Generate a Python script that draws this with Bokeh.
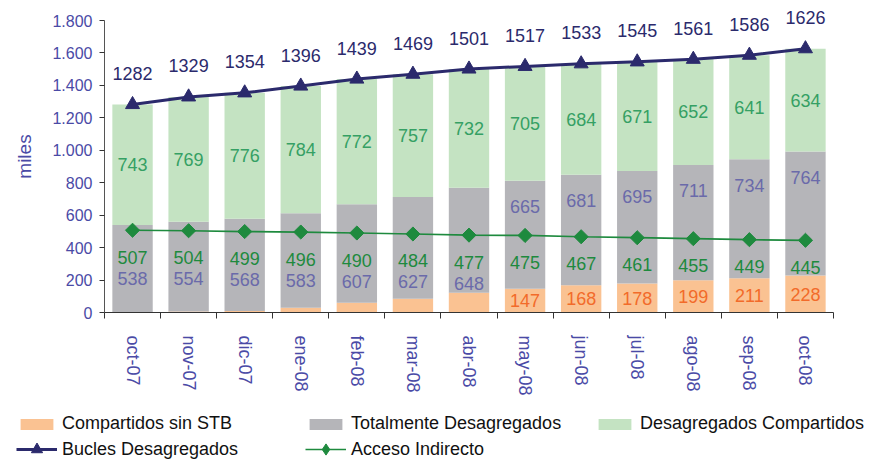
import math
from bokeh.plotting import figure
from bokeh.models import ColumnDataSource, Range1d, FixedTicker, Legend, LegendItem
from bokeh.core.properties import value
from bokeh.embed import file_html
from bokeh.resources import INLINE

# ---- data ----
months = ["oct-07", "nov-07", "dic-07", "ene-08", "feb-08", "mar-08", "abr-08",
          "may-08", "jun-08", "jul-08", "ago-08", "sep-08", "oct-08"]
compartidos_sin_stb = [1, 6, 10, 29, 60, 85, 121, 147, 168, 178, 199, 211, 228]
totalmente_desagregados = [538, 554, 568, 583, 607, 627, 648, 665, 681, 695, 711, 734, 764]
desagregados_compartidos = [743, 769, 776, 784, 772, 757, 732, 705, 684, 671, 652, 641, 634]
bucles_desagregados = [1282, 1329, 1354, 1396, 1439, 1469, 1501, 1517, 1533, 1545, 1561, 1586, 1626]
acceso_indirecto = [507, 504, 499, 496, 490, 484, 477, 475, 467, 461, 455, 449, 445]
y_ticks = [0, 200, 400, 600, 800, 1000, 1200, 1400, 1600, 1800]
series_names = ["Compartidos sin STB", "Totalmente Desagregados", "Desagregados Compartidos",
                "Bucles Desagregados", "Acceso Indirecto"]

FONT = "Liberation Sans"
C_ORANGE = "#FAC292"
C_GRAY = "#B5B5B9"
C_LGREEN = "#C4E3C2"
C_NAVY = "#2B2A6C"
C_GREEN = "#1E8A3E"
C_AXIS_TXT = "#4A4AA6"

n = len(months)
xs = list(range(n))
src = ColumnDataSource(dict(x=xs, orange=compartidos_sin_stb, gray=totalmente_desagregados,
                            lgreen=desagregados_compartidos, bucles=bucles_desagregados,
                            acceso=acceso_indirecto))

y_top = y_ticks[-1] * (1 + 20 / 292)
p = figure(width=872, height=400, output_backend="svg", toolbar_location=None,
           x_range=Range1d(-0.5, n - 0.5), y_range=Range1d(0, y_top),
           min_border=0, min_border_left=104, min_border_right=39,
           min_border_top=0, min_border_bottom=88)
p.outline_line_color = None
p.xgrid.visible = False
p.ygrid.visible = False

def draw_marks(fig, source, visible=True, diamond_marker="square", diamond_size=10,
               diamond_angle=math.pi / 4):
    bars = fig.vbar_stack(["orange", "gray", "lgreen"], x="x", width=0.72,
                          color=[C_ORANGE, C_GRAY, C_LGREEN], line_color=None, source=source)
    lb = fig.line("x", "bucles", source=source, line_color=C_NAVY, line_width=3)
    sb = fig.scatter("x", "bucles", source=source, marker="triangle", size=14,
                     fill_color=C_NAVY, line_color=C_NAVY)
    la = fig.line("x", "acceso", source=source, line_color=C_GREEN, line_width=1.7)
    sa = fig.scatter("x", "acceso", source=source, marker=diamond_marker, size=diamond_size,
                     angle=diamond_angle, fill_color=C_GREEN, line_color=C_GREEN)
    for r in list(bars) + [lb, sb, la, sa]:
        r.visible = visible
    return bars, lb, sb, la, sa

draw_marks(p, src)

def labels(xv, yv, txt, color, yoff, size="18px"):
    s = ColumnDataSource(dict(x=xv, y=yv, t=txt))
    p.text("x", "y", text="t", source=s, text_color=color, text_font=value(FONT),
           text_font_size=size, text_align="center", text_baseline="middle",
           y_offset=yoff)

# totals
labels(xs, bucles_desagregados, [str(v) for v in bucles_desagregados], C_NAVY, -31)
# desagregados compartidos (middle of segment)
labels(xs, [o + g + c / 2 for o, g, c in zip(compartidos_sin_stb, totalmente_desagregados, desagregados_compartidos)],
       [str(v) for v in desagregados_compartidos], "#35A064", 0)
# acceso indirecto labels
labels(xs, acceso_indirecto, [str(v) for v in acceso_indirecto], C_GREEN, 27)
# totalmente desagregados labels: above the line where room, else below
gx_hi, gy_hi, gt_hi, gx_lo, gy_lo, gt_lo = [], [], [], [], [], []
for i, (o, g, a) in enumerate(zip(compartidos_sin_stb, totalmente_desagregados, acceso_indirecto)):
    if o + g - a >= 300:
        gx_hi.append(i); gy_hi.append(o + g); gt_hi.append(str(g))
    else:
        gx_lo.append(i); gy_lo.append(a); gt_lo.append(str(g))
labels(gx_hi, gy_hi, gt_hi, "#6A6AAA", 26)
labels(gx_lo, gy_lo, gt_lo, "#6A6AAA", 48)
# compartidos sin STB labels where the segment is tall enough
ox = [i for i, o in enumerate(compartidos_sin_stb) if o >= 140]
labels(ox, [compartidos_sin_stb[i] / 2 for i in ox], [str(compartidos_sin_stb[i]) for i in ox], "#F26B2A", 0)

# axes
xa = p.xaxis[0]
xa.ticker = FixedTicker(ticks=xs, minor_ticks=[i - 0.5 for i in range(n + 1)])
xa.major_label_overrides = {i: m for i, m in enumerate(months)}
xa.major_label_orientation = "vertical"
xa.major_tick_out = 0
xa.major_tick_in = 0
xa.minor_tick_out = 6
xa.minor_tick_in = 0
xa.minor_tick_line_color = "#333333"
xa.axis_line_color = "#333333"
xa.major_label_standoff = 17
xa.major_label_text_font = FONT
xa.major_label_text_font_size = "18px"
xa.major_label_text_color = C_AXIS_TXT

ya = p.yaxis[0]
ya.ticker = FixedTicker(ticks=y_ticks)
ya.bounds = (y_ticks[0], y_ticks[-1])
ya.major_label_overrides = {t: f"{t:,}".replace(",", ".") for t in y_ticks}
ya.minor_tick_line_color = None
ya.major_tick_out = 5
ya.major_tick_in = 0
ya.major_tick_line_color = "#333333"
ya.axis_line_color = "#555555"
ya.major_label_standoff = 7
ya.major_label_text_font = FONT
ya.major_label_text_font_size = "16px"
ya.major_label_text_color = C_AXIS_TXT
ya.axis_label = "miles"
ya.axis_label_text_font = FONT
ya.axis_label_text_font_size = "19px"
ya.axis_label_text_font_style = "normal"
ya.axis_label_text_color = C_AXIS_TXT
ya.axis_label_standoff = 14

# ---- legend strip (separate root, same glyph styles, renderers hidden) ----
lg = figure(width=872, height=60, output_backend="svg", toolbar_location=None,
            x_axis_type=None, y_axis_type=None, min_border=0,
            x_range=Range1d(0, 1), y_range=Range1d(0, 1))
lg.outline_line_color = None
lg.xgrid.visible = False
lg.ygrid.visible = False
bars2, lb2, sb2, la2, sa2 = draw_marks(lg, src, visible=False,
                                       diamond_marker="diamond", diamond_size=12,
                                       diamond_angle=0)

common = dict(orientation="horizontal", glyph_width=41, label_standoff=5, label_width=234,
              spacing=9, padding=0, margin=0, border_line_color=None,
              background_fill_alpha=0, label_text_font=FONT, label_text_font_size="18px",
              label_text_color="#111111")
legend_bars = Legend(items=[
    LegendItem(label=series_names[0], renderers=[bars2[0]]),
    LegendItem(label=series_names[1], renderers=[bars2[1]]),
    LegendItem(label=series_names[2], renderers=[bars2[2]]),
], location=(16, 26), glyph_height=14, **common)
legend_lines = Legend(items=[
    LegendItem(label=series_names[3], renderers=[lb2, sb2]),
    LegendItem(label=series_names[4], renderers=[la2, sa2]),
], location=(16, -3), glyph_height=28, **common)
lg.add_layout(legend_bars)
lg.add_layout(legend_lines)

open("out.html", "w").write(file_html([p, lg], INLINE))
